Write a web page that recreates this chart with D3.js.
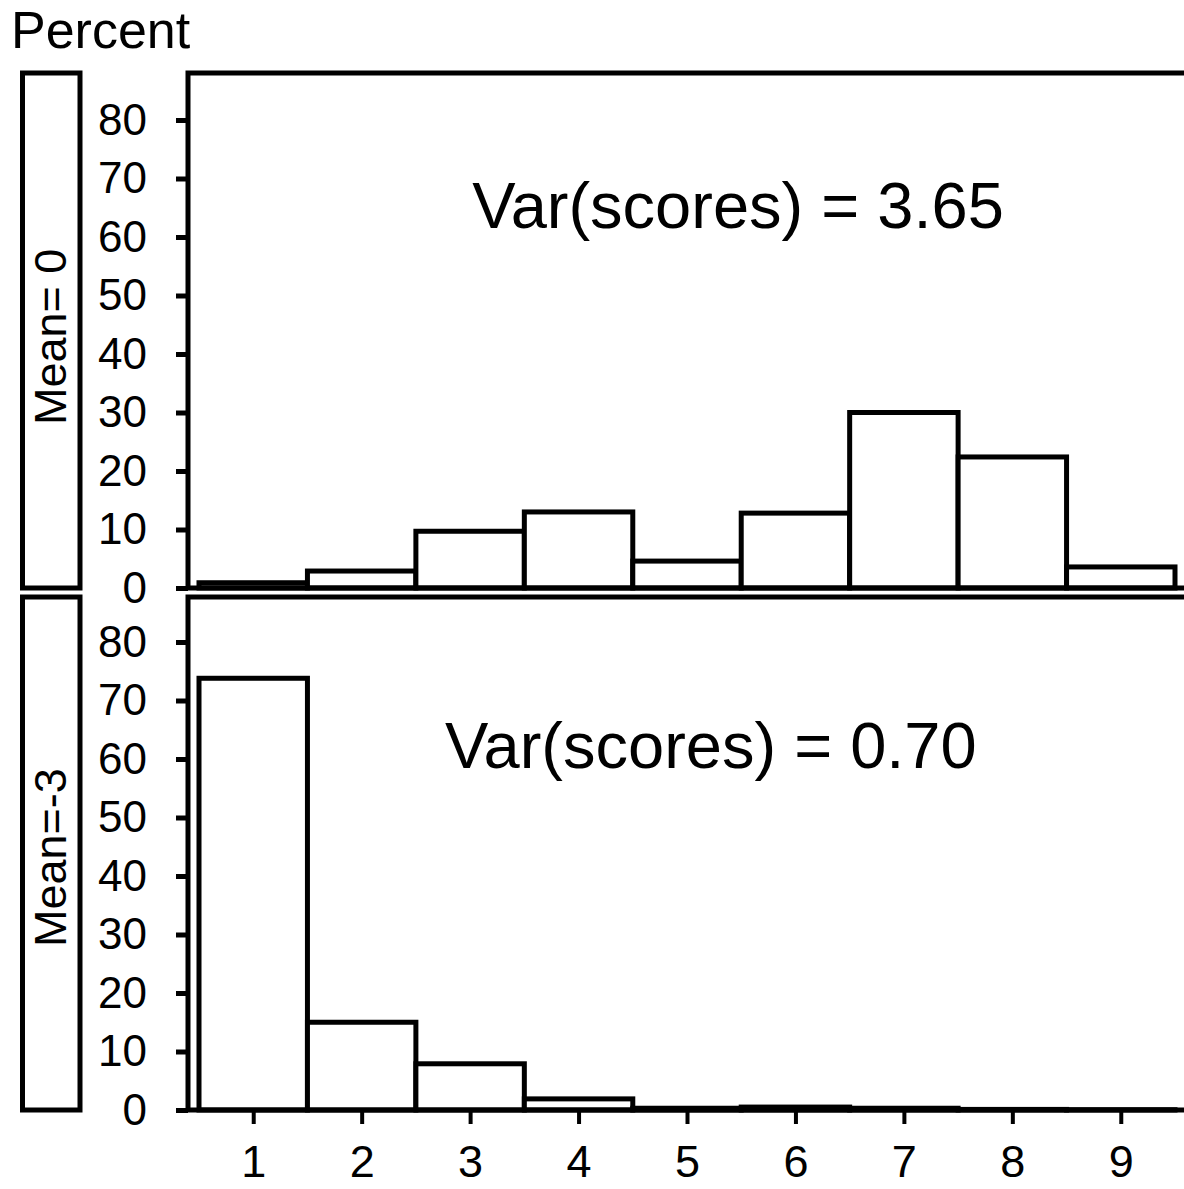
<!DOCTYPE html>
<html>
<head>
<meta charset="utf-8">
<script src="https://cdn.jsdelivr.net/npm/d3@7"></script>
<style>
  body { margin: 0; background: #fff; }
  text { font-family: "Liberation Sans", Arial, sans-serif; fill: #000; }
</style>
</head>
<body>
<svg width="1184" height="1189"></svg>
<script>
// score categories 1..9
const scores = [1, 2, 3, 4, 5, 6, 7, 8, 9];
// percent per score, panel Mean= 0
const pctMean0 = [0.9, 2.9, 9.7, 13.0, 4.6, 12.8, 30.0, 22.4, 3.6];
// percent per score, panel Mean=-3
const pctMeanM3 = [73.8, 15.0, 7.9, 1.9, 0.3, 0.5, 0.3, 0.1, 0.05];
const yTicks = [0, 10, 20, 30, 40, 50, 60, 70, 80];
const panelLabels = ["Mean= 0", "Mean=-3"];
const varLabels = ["Var(scores) = 3.65", "Var(scores) = 0.70"];
const varPos = [[5.47, 61.5], [5.22, 58.5]];  // [score, percent]

const svg = d3.select("svg");
const lw = 5;

const left = 188, right = 1200;
const panels = [
  {top: 73, bottom: 588, values: pctMean0},
  {top: 597, bottom: 1110, values: pctMeanM3}
];

const x = d3.scaleLinear().domain([0.5, 9.5]).range([199, 1175]);

svg.append("text")
  .attr("x", 11).attr("y", 48)
  .style("font-size", "52px")
  .text("Percent");

panels.forEach((p, i) => {
  const y = d3.scaleLinear().domain([0, 80]).range([p.bottom, p.bottom - 468]);
  const g = svg.append("g");

  // strip box at the left
  g.append("rect")
    .attr("x", 22.5).attr("y", p.top)
    .attr("width", 57.5).attr("height", p.bottom - p.top)
    .attr("fill", "none").attr("stroke", "#000").attr("stroke-width", lw);
  g.append("text")
    .attr("transform", `translate(66,${p.bottom - 163}) rotate(-90)`)
    .style("font-size", "45px")
    .text(panelLabels[i]);

  // bars
  g.selectAll(".bar")
    .data(scores)
    .enter()
    .append("rect")
    .attr("class", "bar")
    .attr("x", d => x(d - 0.5))
    .attr("width", d => x(d + 0.5) - x(d - 0.5))
    .attr("y", (d, j) => y(p.values[j]))
    .attr("height", (d, j) => p.bottom - y(p.values[j]))
    .attr("fill", "#fff")
    .attr("stroke", "#000")
    .attr("stroke-width", lw);

  // frame: left, top, bottom
  g.append("path")
    .attr("d", `M${right},${p.top}H${left}V${p.bottom}H${right}`)
    .attr("fill", "none").attr("stroke", "#000").attr("stroke-width", lw);

  // y axis
  const yAxis = d3.axisLeft(y)
    .tickValues(yTicks)
    .tickSize(12)
    .tickPadding(29);
  const ya = g.append("g")
    .attr("transform", `translate(${left},0)`)
    .call(yAxis);
  ya.select(".domain").remove();
  ya.selectAll("line").attr("stroke-width", lw);
  ya.selectAll("text")
    .style("font-size", "44px")
    .attr("font-family", null);

  // annotation
  g.append("text")
    .attr("x", x(varPos[i][0]))
    .attr("y", y(varPos[i][1]))
    .attr("text-anchor", "middle")
    .style("font-size", "65px")
    .text(varLabels[i]);

  // x axis on the lower panel only
  if (i == 1) {
    const xAxis = d3.axisBottom(x)
      .tickValues(scores)
      .tickSize(14)
      .tickPadding(21);
    const xa = g.append("g")
      .attr("transform", `translate(0,${p.bottom})`)
      .call(xAxis);
    xa.select(".domain").remove();
    xa.selectAll("line").attr("stroke-width", 4);
    xa.selectAll("text")
      .style("font-size", "45px")
      .attr("font-family", null);
  }
});
</script>
</body>
</html>
